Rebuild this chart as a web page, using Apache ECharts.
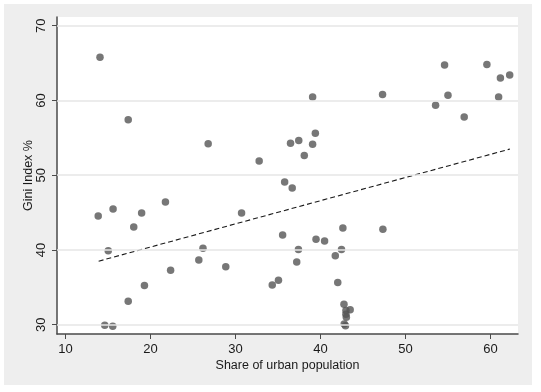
<!DOCTYPE html>
<html>
<head>
<meta charset="utf-8">
<script src="https://cdn.jsdelivr.net/npm/echarts@6/dist/echarts.min.js"></script>
<style>
html,body{margin:0;padding:0;background:#fff;}
#c{width:541px;height:392px;}
</style>
</head>
<body>
<div id="c"></div>
<script>
const urbanShare = [14.06,13.85,17.38,15.60,18.96,18.03,15.03,21.76,22.37,19.29,17.38,14.62,15.56,
  26.79,26.18,25.69,28.86,30.72,32.79,39.08,39.40,37.45,36.48,39.08,38.10,35.79,36.68,35.55,39.48,
  40.49,37.41,37.21,42.48,42.64,41.75,42.04,35.06,34.33,
  42.77,43.50,43.00,43.00,43.05,42.80,42.95,
  47.31,47.35,53.55,54.61,55.01,56.92,59.59,61.18,60.97,62.27];
const giniIndex = [65.77,44.55,57.43,45.49,44.96,43.08,39.88,46.43,37.29,35.24,33.15,29.94,29.80,
  54.22,40.23,38.67,37.74,44.96,51.91,60.46,55.61,54.63,54.27,54.14,52.62,49.10,48.30,42.01,41.43,
  41.21,40.05,38.40,40.05,42.95,39.21,35.64,35.95,35.33,
  32.75,32.00,31.90,31.40,31.00,30.10,29.85,
  60.78,42.77,59.35,64.74,60.69,57.79,64.79,63.00,60.46,63.40];
const fitX = [13.9, 62.3];
const fitY = [38.5, 53.5];
const xTicks = [10,20,30,40,50,60];
const yTicks = [30,40,50,60,70];

const points = urbanShare.map((x,i)=>[x, giniIndex[i]]);
const fitLine = fitX.map((x,i)=>[x, fitY[i]]);

const chart = echarts.init(document.getElementById('c'), null, {renderer:'canvas'});
const axisCol = '#4a4a4a';
const txtCol = '#1a1a1a';
const font = 'Liberation Sans, Arial, sans-serif';
chart.setOption({
  backgroundColor: '#ffffff',
  animation: false,
  graphic: [{
    type: 'rect', left: 4, top: 4, z: -10,
    shape: {width: 528, height: 381},
    style: {fill: '#eeeeee'}
  }],
  grid: {left: 57, right: 23, top: 17, bottom: 58, show: true, backgroundColor: '#ffffff', borderWidth: 0},
  xAxis: {
    type: 'value', min: 9.0, max: 63.25,
    name: 'Share of urban population', nameLocation: 'middle', nameGap: 25, nameMoveOverlap: false,
    nameTextStyle: {color: txtCol, fontSize: 12.5, fontFamily: font},
    axisLine: {show: true, lineStyle: {color: axisCol, width: 1.5}},
    axisTick: {show: true, length: 5, customValues: xTicks, lineStyle: {color: axisCol, width: 1}},
    axisLabel: {customValues: xTicks, color: txtCol, fontSize: 13, fontFamily: font, margin: 9},
    splitLine: {show: false}
  },
  yAxis: {
    type: 'value', min: 28.76, max: 71.16,
    name: 'Gini Index %', nameLocation: 'middle', nameGap: 22, nameMoveOverlap: false,
    nameTextStyle: {color: txtCol, fontSize: 12.5, fontFamily: font},
    axisLine: {show: true, lineStyle: {color: axisCol, width: 1.5}},
    axisTick: {show: true, length: 5, customValues: yTicks, lineStyle: {color: axisCol, width: 1}},
    axisLabel: {customValues: yTicks, rotate: 90, color: txtCol, fontSize: 13, fontFamily: font, margin: 9},
    splitLine: {show: false}
  },
  series: [
    {
      type: 'line', data: [], z: 1, silent: true,
      markLine: {
        silent: true, symbol: ['none','none'], label: {show: false},
        lineStyle: {color: '#e6e6e6', width: 1.5, type: 'solid'},
        data: yTicks.map(v => ({yAxis: v}))
      }
    },
    {
      type: 'scatter', data: points, z: 3,
      symbol: 'circle', symbolSize: 7.5,
      itemStyle: {color: '#555555'}
    },
    {
      type: 'line', data: fitLine, z: 4, showSymbol: false, symbol: 'none',
      lineStyle: {color: '#1a1a1a', width: 1.1, type: [5, 3]}
    }
  ]
});
</script>
</body>
</html>
